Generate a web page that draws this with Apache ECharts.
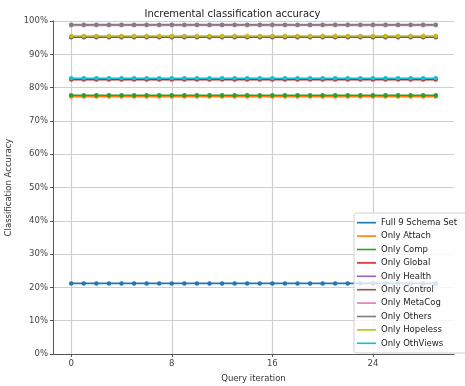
<!DOCTYPE html>
<html>
<head>
<meta charset="utf-8">
<script src="https://cdn.jsdelivr.net/npm/echarts@6/dist/echarts.min.js"></script>
<style>html,body{margin:0;padding:0;background:#fff}#c{width:465px;height:386px}</style>
</head>
<body>
<div id="c"></div>
<script>
const iterations = [0,1,2,3,4,5,6,7,8,9,10,11,12,13,14,15,16,17,18,19,20,21,22,23,24,25,26,27,28,29];
const xTicks = [0, 8, 16, 24];
const seriesNames = ['Full 9 Schema Set','Only Attach','Only Comp','Only Global','Only Health','Only Control','Only MetaCog','Only Others','Only Hopeless','Only OthViews'];
const fullSet  = [0.212,0.212,0.212,0.212,0.212,0.212,0.212,0.212,0.212,0.212,0.212,0.212,0.212,0.212,0.212,0.212,0.212,0.212,0.212,0.212,0.212,0.212,0.212,0.212,0.212,0.212,0.212,0.212,0.212,0.212];
const attach   = [0.773,0.773,0.773,0.773,0.773,0.773,0.773,0.773,0.773,0.773,0.773,0.773,0.773,0.773,0.773,0.773,0.773,0.773,0.773,0.773,0.773,0.773,0.773,0.773,0.773,0.773,0.773,0.773,0.773,0.773];
const comp     = [0.777,0.777,0.777,0.777,0.777,0.777,0.777,0.777,0.777,0.777,0.777,0.777,0.777,0.777,0.777,0.777,0.777,0.777,0.777,0.777,0.777,0.777,0.777,0.777,0.777,0.777,0.777,0.777,0.777,0.777];
const global_  = [0.824,0.824,0.824,0.824,0.824,0.824,0.824,0.824,0.824,0.824,0.824,0.824,0.824,0.824,0.824,0.824,0.824,0.824,0.824,0.824,0.824,0.824,0.824,0.824,0.824,0.824,0.824,0.824,0.824,0.824];
const health   = [0.952,0.952,0.952,0.952,0.952,0.952,0.952,0.952,0.952,0.952,0.952,0.952,0.952,0.952,0.952,0.952,0.952,0.952,0.952,0.952,0.952,0.952,0.952,0.952,0.952,0.952,0.952,0.952,0.952,0.952];
const control  = [0.951,0.951,0.951,0.951,0.951,0.951,0.951,0.951,0.951,0.951,0.951,0.951,0.951,0.951,0.951,0.951,0.951,0.951,0.951,0.951,0.951,0.951,0.951,0.951,0.951,0.951,0.951,0.951,0.951,0.951];
const metaCog  = [0.987,0.987,0.987,0.987,0.987,0.987,0.987,0.987,0.987,0.987,0.987,0.987,0.987,0.987,0.987,0.987,0.987,0.987,0.987,0.987,0.987,0.987,0.987,0.987,0.987,0.987,0.987,0.987,0.987,0.987];
const others   = [0.989,0.989,0.989,0.989,0.989,0.989,0.989,0.989,0.989,0.989,0.989,0.989,0.989,0.989,0.989,0.989,0.989,0.989,0.989,0.989,0.989,0.989,0.989,0.989,0.989,0.989,0.989,0.989,0.989,0.989];
const hopeless = [0.955,0.955,0.955,0.955,0.955,0.955,0.955,0.955,0.955,0.955,0.955,0.955,0.955,0.955,0.955,0.955,0.955,0.955,0.955,0.955,0.955,0.955,0.955,0.955,0.955,0.955,0.955,0.955,0.955,0.955];
const othViews = [0.828,0.828,0.828,0.828,0.828,0.828,0.828,0.828,0.828,0.828,0.828,0.828,0.828,0.828,0.828,0.828,0.828,0.828,0.828,0.828,0.828,0.828,0.828,0.828,0.828,0.828,0.828,0.828,0.828,0.828];
const seriesValues = [fullSet, attach, comp, global_, health, control, metaCog, others, hopeless, othViews];
const colors = ['#1f77b4','#ff7f0e','#2ca02c','#d62728','#9467bd','#8c564b','#e377c2','#7f7f7f','#bcbd22','#17becf'];

const font = 'DejaVu Sans';
const chart = echarts.init(document.getElementById('c'), null, {renderer: 'canvas'});
chart.setOption({
  animation: false,
  color: colors,
  title: {
    text: 'Incremental classification accuracy',
    left: 'center', top: 4,
    textStyle: {fontFamily: font, fontSize: 10, fontWeight: 'normal', color: '#222'}
  },
  grid: {left: 53, right: 11, top: 21, bottom: 32, containLabel: false, outerBoundsMode: 'none'},
  legend: {
    orient: 'vertical',
    left: 354, top: 213,
    icon: 'rect',
    itemWidth: 19, itemHeight: 1.6,
    itemGap: 0,
    padding: [3, 20, 3, 3],
    backgroundColor: 'rgba(255,255,255,0.8)',
    borderColor: '#d0d0d0', borderWidth: 1, borderRadius: 3,
    textStyle: {fontFamily: font, fontSize: 8.5, color: '#222', lineHeight: 13.4},
    data: seriesNames
  },
  xAxis: {
    type: 'value', min: -1.45, max: 30.45,
    name: 'Query iteration', nameLocation: 'middle', nameGap: 20,
    nameTextStyle: {fontFamily: font, fontSize: 8.5, color: '#333'},
    axisLine: {show: true, onZero: false, lineStyle: {color: '#555', width: 1}},
    axisTick: {show: true, length: 3, customValues: xTicks, lineStyle: {color: '#555'}},
    axisLabel: {customValues: xTicks, fontFamily: font, fontSize: 8.5, color: '#444', margin: 5},
    splitLine: {show: true, lineStyle: {color: '#cfcfcf', width: 1.2}}
  },
  yAxis: {
    type: 'value', min: 0, max: 1, interval: 0.1,
    name: 'Classification Accuracy', nameLocation: 'middle', nameGap: 35,
    nameTextStyle: {fontFamily: font, fontSize: 8.5, color: '#333'},
    axisLine: {show: true, onZero: false, lineStyle: {color: '#555', width: 1}},
    axisTick: {show: true, length: 3, lineStyle: {color: '#555'}},
    axisLabel: {fontFamily: font, fontSize: 8.5, color: '#444', margin: 5,
      formatter: v => Math.round(v * 100) + '%'},
    splitLine: {show: true, lineStyle: {color: '#cfcfcf', width: 1}}
  },
  series: seriesNames.map((name, i) => ({
    name: name,
    type: 'line',
    data: iterations.map((x, j) => [x, seriesValues[i][j]]),
    symbol: 'circle', symbolSize: 4.5, showSymbol: true,
    lineStyle: {width: 1.6},
    itemStyle: {color: colors[i]},
    emphasis: {disabled: true}
  }))
});
</script>
</body>
</html>
